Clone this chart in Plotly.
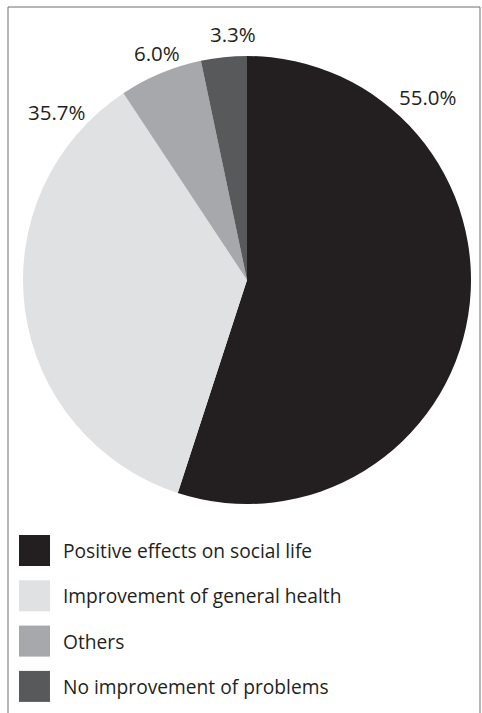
import plotly.graph_objects as go

labels = ["Positive effects on social life", "Improvement of general health", "Others", "No improvement of problems"]
values = [55.0, 35.7, 6.0, 3.3]
colors = ["#231f20", "#e0e1e3", "#a6a8ab", "#58595b"]

W, H = 482, 713
def px(x):
    return x / W
def py(y):
    return 1 - y / H

FONT = "Open Sans, Noto Sans, sans-serif"
TXT = "#231f20"

fig = go.Figure(go.Pie(
    labels=labels, values=values, sort=False, direction="clockwise", rotation=0,
    marker=dict(colors=colors, line=dict(width=0)),
    textinfo="none", hoverinfo="label+percent", showlegend=False,
    domain=dict(x=[px(23), px(471)], y=[py(504), py(56)]),
))

# percentage labels placed outside the pie
label_pos = [(428, 97), (57, 112), (157, 53), (233, 34)]
annotations = []
for v, (x, y) in zip(values, label_pos):
    annotations.append(dict(x=px(x), y=py(y), xref="paper", yref="paper", text=f"{v:.1f}%",
                            showarrow=False, font=dict(family=FONT, size=20.5, color=TXT),
                            xanchor="center", yanchor="middle"))

shapes = [dict(type="rect", xref="paper", yref="paper", x0=px(8), x1=px(480), y0=-0.05, y1=py(7),
               line=dict(color="#6d6e71", width=1), fillcolor="rgba(0,0,0,0)", layer="below")]

# custom legend
top0, step, size = 535, 45.3, 31
for i, (lab, col) in enumerate(zip(labels, colors)):
    t = top0 + i * step
    shapes.append(dict(type="rect", xref="paper", yref="paper", x0=px(19), x1=px(19 + size),
                       y0=py(t + size), y1=py(t), line=dict(width=0), fillcolor=col))
    annotations.append(dict(x=px(61), y=py(t + size / 2), xref="paper", yref="paper", text=lab,
                            showarrow=False, xanchor="left", yanchor="middle",
                            font=dict(family=FONT, size=19.2, color=TXT)))

fig.update_layout(width=W, height=H, margin=dict(l=0, r=0, t=0, b=0),
                  paper_bgcolor="white", plot_bgcolor="white",
                  shapes=shapes, annotations=annotations, showlegend=False)

fig.write_html("out.html")
